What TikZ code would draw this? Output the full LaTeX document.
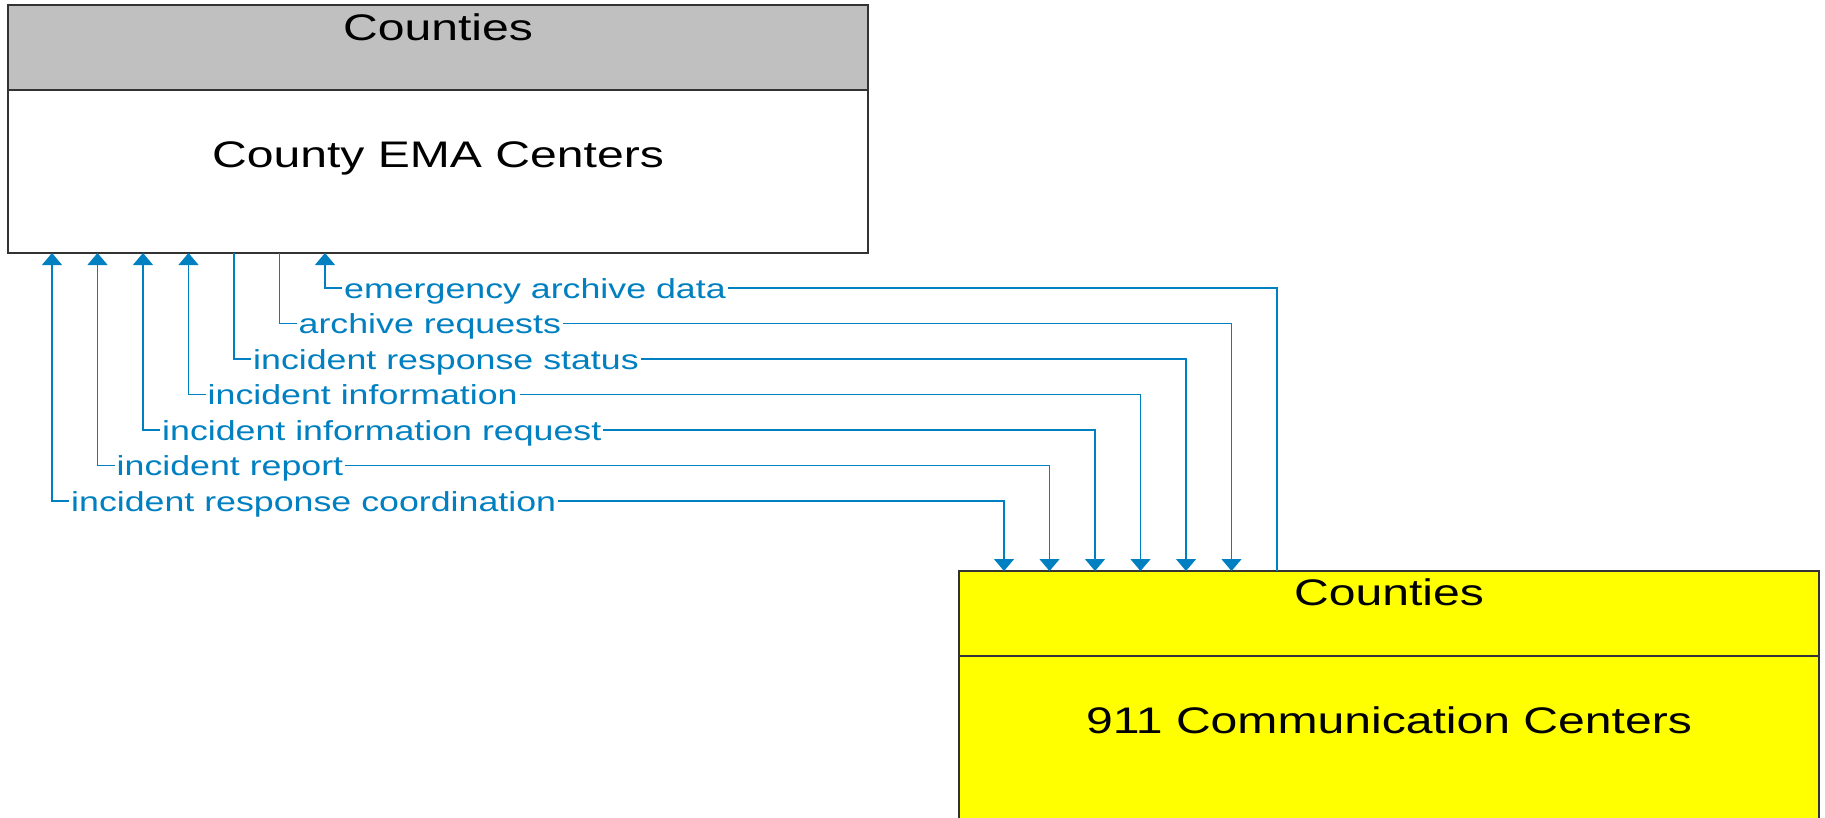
\documentclass[tikz,border=0pt]{standalone}
\usepackage{fontspec}
\setmainfont[FakeStretch=1.3]{Liberation Sans}
\usetikzlibrary{arrows.meta, positioning, calc}
\definecolor{flowcolor}{HTML}{0080C0}
\definecolor{headgray}{HTML}{C0C0C0}
\definecolor{ccyellow}{HTML}{FFFF00}

\begin{document}
\begin{tikzpicture}[
    x=1pt, y=-1pt,
    >={Triangle[width=20pt, length=12pt]},
    entity/.style={rectangle, draw=black!80, line width=1.5pt, minimum width=860pt,
                   outer sep=0pt, inner sep=0pt},
    boxtitle/.style={font=\fontsize{37}{40}\selectfont, inner sep=0pt, anchor=base},
    flow/.style={draw=flowcolor, line width=1.2pt},
    flowlabel/.style={fill=white, text=flowcolor, inner xsep=2pt, inner ysep=1pt,
                      anchor=base west, font=\fontsize{27.5}{30}\selectfont}
]
\useasboundingbox (0,0) rectangle (1825,817);
\clip (0,0) rectangle (1825,817);

% county EMA
\node[entity, fill=headgray, minimum height=85pt, anchor=north west] (emahead) at (8,5) {};
\node[entity, fill=white, minimum height=163pt, anchor=north] (ema) at (emahead.south) {};
\node[boxtitle] (emaheadtxt) at ([yshift=-35pt]emahead.north) {Counties};
\node[boxtitle] (emaname) at ([yshift=-77pt]ema.north) {County EMA Centers};

% 911 centers
\node[entity, fill=ccyellow, minimum height=85pt, anchor=north west] (cchead) at (959,571) {};
\node[entity, fill=ccyellow, minimum height=220pt, anchor=north] (cc) at (cchead.south) {};
\node[boxtitle] (ccheadtxt) at ([yshift=-34pt]cchead.north) {Counties};
\node[boxtitle] (ccname) at ([yshift=-77pt]cc.north) {911 Communication Centers};

% flows
\foreach \i/\tips/\lbl in {0/<->/incident response coordination,
                           1/<->/incident report,
                           2/<->/incident information request,
                           3/<->/incident information,
                           4/->/incident response status,
                           5/->/archive requests,
                           6/<-/emergency archive data} {
    \path (ema.south west) ++({44+45.5*\i},0) coordinate (emaend\i);
    \path (cchead.north west) ++({45+45.5*\i},0) coordinate (ccend\i);
    \coordinate (bend\i) at ([yshift={70+35.5*\i}]ccend\i);
    \draw[flow, \tips] (emaend\i) |- (bend\i) -- (ccend\i);
    \node[flowlabel] (lbl\i) at ($(emaend\i |- bend\i)+(17,10)$) {\lbl};
}

\end{tikzpicture}
\end{document}
